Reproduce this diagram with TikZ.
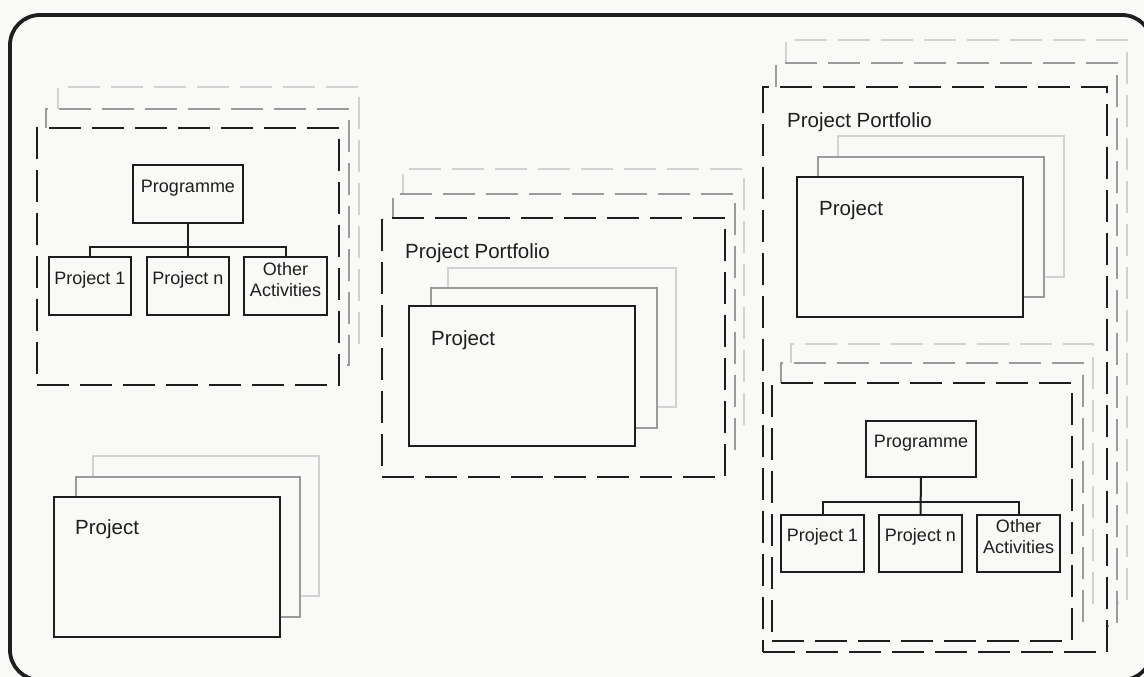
\documentclass[tikz,border=0pt]{standalone}
\usepackage{fontspec}
\setmainfont{Liberation Sans}
\usetikzlibrary{fit}
\definecolor{bgc}{RGB}{249,249,247}
\definecolor{ink}{RGB}{30,30,30}
\definecolor{midg}{RGB}{155,155,155}
\definecolor{ltg}{RGB}{210,210,210}
\tikzset{
  dsh/.style={dash pattern=on 32pt off 11pt},
  dfront/.style={draw=ink, dsh, line width=2pt, fill=bgc, inner sep=0pt},
  dmid/.style={draw=midg, dsh, line width=1.7pt, fill=bgc, inner sep=0pt},
  dback/.style={draw=ltg, dsh, line width=1.7pt, fill=bgc, inner sep=0pt},
  sfront/.style={draw=ink, line width=2pt, fill=bgc, inner sep=0pt},
  smid/.style={draw=midg, line width=1.7pt, fill=bgc, inner sep=0pt},
  sback/.style={draw=ltg, line width=1.7pt, fill=bgc, inner sep=0pt},
  tbox/.style={draw=ink, line width=2pt, fill=bgc, inner sep=0pt, text=ink,
    font=\fontsize{18}{21}\selectfont, align=center},
  lbl/.style={inner sep=0pt, anchor=base west, text=ink, font=\fontsize{20.5}{24}\selectfont},
  conn/.style={draw=ink, line width=2pt},
  frame/.style={draw=ink, line width=3.8pt, rounded corners=30pt}
}
\begin{document}
\begin{tikzpicture}[x=1pt,y=-1pt]
\useasboundingbox (0,0) rectangle (1144,677);
\fill[bgc] (0,0) rectangle (1144,677);
\draw[frame] (10,15) rectangle (1152,680);

% ---------- left programme group ----------
\node[dback, fit={(58,87) (359,344)}] (lgB) {};
\node[dmid, fit={(46,109) (349,365)}] (lgM) {};
\node[dfront, fit={(37,128) (339,385)}] (lgF) {};
\node[tbox, fit={(133,165) (243,223)}] (lprog) {Programme};
\node[tbox, fit={(49,257) (131,315)}] (lp1) {Project 1};
\node[tbox, fit={(147,257) (229,315)}] (lpn) {Project n};
\node[tbox, fit={(244,257) (327,315)}] (loa) {Other\\Activities};
\draw[conn] (lprog.south) -- (lpn.north);
\draw[conn] (lp1.north) -- ++(0,-9) -| (loa.north);

% ---------- bottom-left project ----------
\node[sback, fit={(93,456) (319,596)}] (bpB) {};
\node[smid, fit={(76,477) (300,617)}] (bpM) {};
\node[sfront, fit={(54,497) (280,637)}] (bpF) {};
\node[lbl] (bpT) at (75,534) {Project};

% ---------- middle portfolio ----------
\node[dback, fit={(403,169) (744,428)}] (mgB) {};
\node[dmid, fit={(393,194) (735,452)}] (mgM) {};
\node[dfront, fit={(382,218) (725,477)}] (mgF) {};
\node[lbl] (mgT) at (405,258) {Project Portfolio};
\node[sback, fit={(448,268) (676,407)}] (mpB) {};
\node[smid, fit={(431,288) (657,428)}] (mpM) {};
\node[sfront, fit={(409,306) (635,446)}] (mpF) {};
\node[lbl] (mpT) at (431,345) {Project};

% ---------- right portfolio ----------
\node[dback, fit={(786,40) (1127,603)}] (rgB) {};
\node[dmid, fit={(776,63) (1117,626)}] (rgM) {};
\node[dfront, fit={(763,87) (1107,652)}] (rgF) {};
\node[lbl] (rgT) at (787,127) {Project Portfolio};
\node[sback, fit={(838,136) (1064,277)}] (rpB) {};
\node[smid, fit={(818,157) (1044,297)}] (rpM) {};
\node[sfront, fit={(797,177) (1023,317)}] (rpF) {};
\node[lbl] (rpT) at (819,215) {Project};
\node[dback, fit={(791,344) (1093,603)}] (rrB) {};
\node[dmid, fit={(781,363) (1083,621)}] (rrM) {};
\node[dfront, fit={(772,383) (1072,641)}] (rrF) {};
\node[tbox, fit={(866,421) (976,477)}] (rprog) {Programme};
\node[tbox, fit={(781,515) (864,572)}] (rp1) {Project 1};
\node[tbox, fit={(879,515) (962,572)}] (rpn) {Project n};
\node[tbox, fit={(977,515) (1060,572)}] (roa) {Other\\Activities};
\draw[conn] (rprog.south) -- (rpn.north);
\draw[conn] (rp1.north) -- ++(0,-12) -| (roa.north);
\end{tikzpicture}
\end{document}
